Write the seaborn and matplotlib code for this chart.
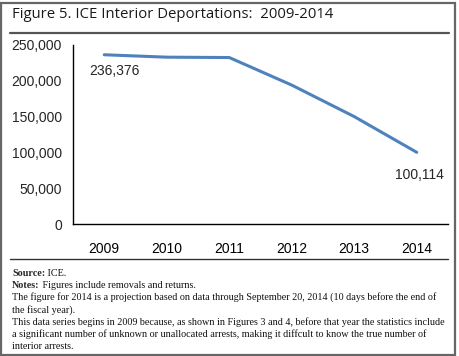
import pandas as pd
import seaborn as sns
import matplotlib.pyplot as plt
from matplotlib.patches import Rectangle
from matplotlib.lines import Line2D
from matplotlib.ticker import FuncFormatter

# data
years = ['2009', '2010', '2011', '2012', '2013', '2014']
deportations = [236376, 233000, 232500, 194000, 150000, 100114]
y_ticks = [0, 50000, 100000, 150000, 200000, 250000]

df = pd.DataFrame({'year': years, 'deportations': deportations})

sns.set_style('white')
plt.rcParams['font.family'] = ['Liberation Sans', 'DejaVu Sans']

fig = plt.figure(figsize=(4.6, 3.56), dpi=100)
W, H = 460, 356

ax = fig.add_axes([73 / W, 1 - 224 / H, (448 - 73) / W, (224 - 45) / H])
sns.lineplot(data=df, x='year', y='deportations', ax=ax, color='#4F81BD',
             linewidth=2.2, sort=False)

ax.set_xlim(-0.5, len(years) - 0.5)
ax.set_ylim(0, 250000)
ax.set_yticks(y_ticks)
ax.yaxis.set_major_formatter(FuncFormatter(lambda v, p: f'{int(v):,}'))
ax.set_xticks(range(len(years)))
ax.set_xticklabels(years)
ax.set_xticks([i - 0.5 for i in range(len(years) + 1)], minor=True)
ax.tick_params(axis='x', which='major', length=0, pad=13, labelsize=10, colors='black')
ax.tick_params(axis='x', which='minor', length=4, width=1, color='black', direction='out')
ax.tick_params(axis='y', length=4, width=1, color='black', direction='out', labelsize=10, pad=4)
ax.set_xlabel('')
ax.set_ylabel('')
for s in ['top', 'right']:
    ax.spines[s].set_visible(False)
for s in ['left', 'bottom']:
    ax.spines[s].set_color('black')
    ax.spines[s].set_linewidth(1)
ax.grid(False)

# data labels
ax.text(0.16, 214000, f'{deportations[0]:,}', ha='center', va='center', fontsize=10)
ax.text(5.04, 68500, f'{deportations[-1]:,}', ha='center', va='center', fontsize=10)

# frame, title and rules
fig.patches.append(Rectangle((1.5 / W, 1.5 / H), 454 / W, 352 / H, transform=fig.transFigure,
                             fill=False, edgecolor='#666666', linewidth=1.6))
fig.text(12 / W, 1 - 15 / H, 'Figure 5. ICE Interior Deportations:  2009-2014',
         family=['Open Sans', 'DejaVu Sans'], fontsize=10.7, color='#1a1a1a',
         ha='left', va='center')
fig.lines.append(Line2D([10 / W, 449 / W], [1 - 33 / H, 1 - 33 / H], transform=fig.transFigure,
                        color='#555555', linewidth=1.6))
fig.lines.append(Line2D([10 / W, 448 / W], [1 - 259 / H, 1 - 259 / H], transform=fig.transFigure,
                        color='#333333', linewidth=1.0))

# footer notes
serif = ['Liberation Serif', 'DejaVu Serif']
notes = [
    ('Source:', ' ICE.'),
    ('Notes:', ' Figures include removals and returns.'),
    ('', 'The figure for 2014 is a projection based on data through September 20, 2014 (10 days before the end of'),
    ('', 'the fiscal year).'),
    ('', 'This data series begins in 2009 because, as shown in Figures 3 and 4, before that year the statistics include'),
    ('', 'a significant number of unknown or unallocated arrests, making it diffcult to know the true number of'),
    ('', 'interior arrests.'),
]
fig.canvas.draw()
renderer = fig.canvas.get_renderer()
y0 = 273
for i, (bold, rest) in enumerate(notes):
    y = 1 - (y0 + i * 12.2) / H
    x = 12 / W
    if bold:
        t = fig.text(x, y, bold, family=serif, fontsize=7.3, fontweight='bold', ha='left', va='center')
        bb = t.get_window_extent(renderer)
        x = bb.x1 / fig.bbox.width
    fig.text(x, y, rest, family=serif, fontsize=7.3, ha='left', va='center', color='#111111')

fig.savefig('out.png', dpi=100)
